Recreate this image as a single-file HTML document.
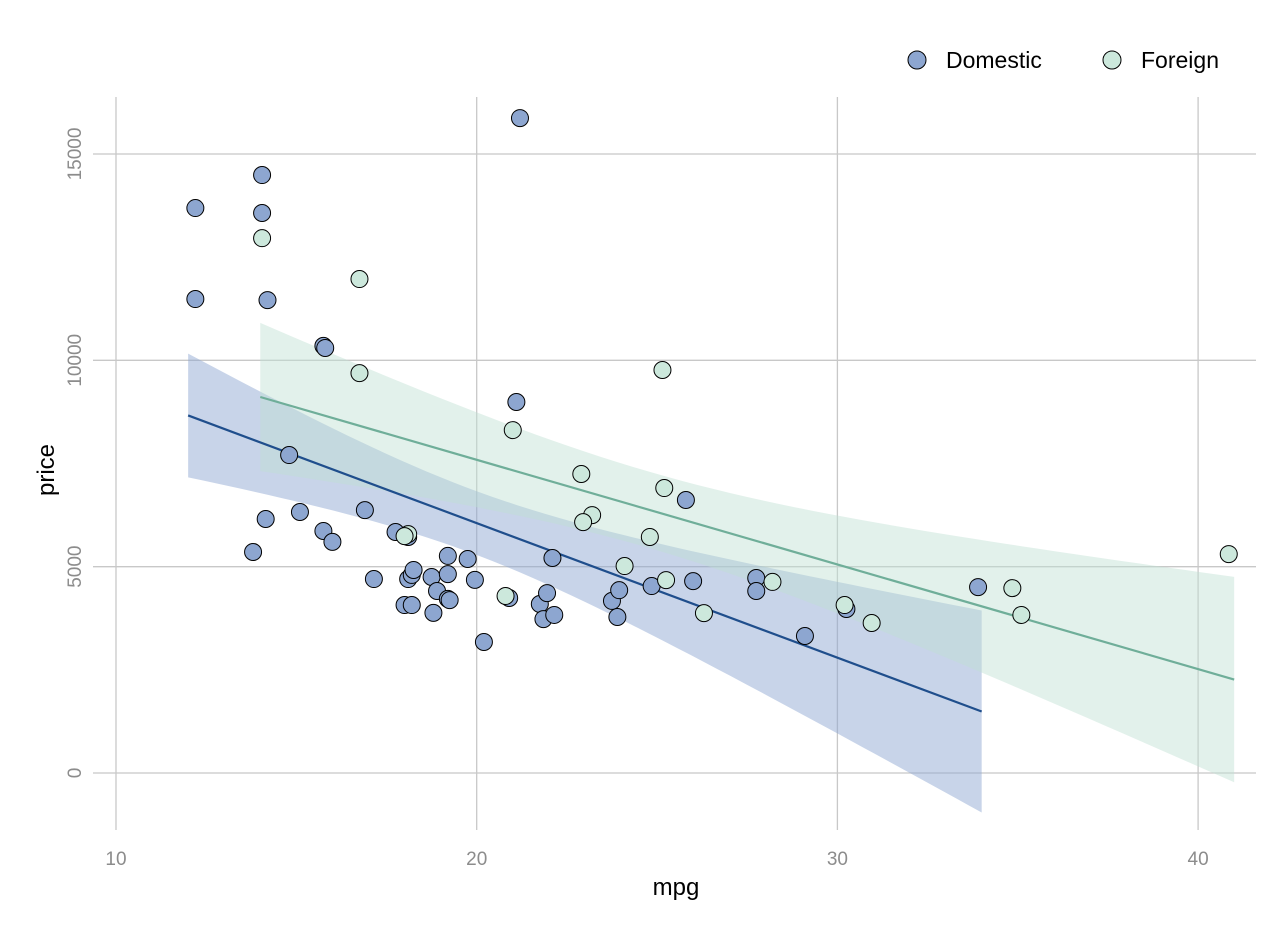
<!DOCTYPE html>
<html><head><meta charset="utf-8"><style>
body{margin:0;background:#fff;}
svg{display:block;font-family:"Liberation Sans",sans-serif;}
</style></head><body>
<svg id="chart" width="1277" height="929">
<g id="grid"></g>
<g id="bands"></g>
<g id="lines"></g>
<g id="points"></g>
<g id="axes"></g>
<text x="676" y="895" font-size="24" text-anchor="middle" fill="#000">mpg</text>
<text x="0" y="0" font-size="24" text-anchor="middle" fill="#000" transform="translate(54,470) rotate(-90)">price</text>
<g>
<g><circle cx="917" cy="60" r="9" fill="#8da6d0" stroke="#000" stroke-width="1"/><text x="946" y="68" font-size="23" fill="#000">Domestic</text></g>
<g><circle cx="1112" cy="60" r="9" fill="#cce8dc" stroke="#000" stroke-width="1"/><text x="1141" y="68" font-size="23" fill="#000">Foreign</text></g>
</g>
</svg>
<script>
const xTicks=[10,20,30,40];
const yTicks=[0,5000,10000,15000];
const domMpg=[12.2,12.2,14.05,14.05,14.2,15.75,15.8,14.8,14.15,15.1,13.8,15.75,16.0,16.9,17.15,17.75,18.1,18.1,18.2,18.25,18.0,18.2,18.75,18.9,18.8,19.2,19.2,19.2,19.25,19.75,19.95,20.2,20.9,21.2,21.1,21.75,21.95,21.85,22.15,22.1,23.75,23.95,23.9,24.85,25.8,26.0,27.75,27.75,29.1,30.25,33.9];
const domPrice=[13690,11485,14490,13570,11460,10350,10300,7705,6155,6325,5355,5865,5600,6370,4700,5840,5720,4700,4800,4920,4070,4070,4750,4410,3880,5260,4820,4220,4190,5185,4680,3175,4240,15870,8990,4095,4360,3730,3830,5210,4170,4430,3780,4530,6615,4650,4725,4410,3320,3975,4505];
const forMpg=[14.05,16.75,16.75,25.15,21.0,22.9,25.2,23.2,22.95,24.8,18.1,18.0,24.1,25.25,28.2,20.8,26.3,30.2,30.95,34.85,35.1,40.85];
const forPrice=[12960,11970,9690,9765,8310,7245,6905,6250,6080,5720,5790,5740,5015,4675,4630,4290,3875,4070,3635,4480,3830,5305];
const X=v=>116+(v-10)*36.07;
const Y=v=>773-v*0.041267;
const NS="http://www.w3.org/2000/svg";
function mk(tag,attrs,parent){const e=document.createElementNS(NS,tag);for(const k in attrs)e.setAttribute(k,attrs[k]);parent.appendChild(e);return e;}
const grid=document.getElementById('grid'),axes=document.getElementById('axes');
xTicks.forEach(t=>{
 const l=mk('line',{x1:X(t),x2:X(t),y1:97,y2:830,stroke:'#c8c8c8','stroke-width':1.3},grid);
 
 
 const tx=mk('text',{x:X(t),y:865,'font-size':19,fill:'#8c8c8c','text-anchor':'middle'},axes);
 tx.textContent=t;
 
 
});
yTicks.forEach(t=>{
 const l=mk('line',{x1:93,x2:1256,y1:Y(t),y2:Y(t),stroke:'#c8c8c8','stroke-width':1.3},grid);
 
 
 const tx=mk('text',{x:0,y:0,'font-size':19,fill:'#8c8c8c','text-anchor':'middle',transform:`translate(81,${Y(t)}) rotate(-90)`},axes);
 tx.textContent=t;
 
 
});
function fit(xs,ys){
 const n=xs.length,mx=xs.reduce((a,b)=>a+b)/n,my=ys.reduce((a,b)=>a+b)/n;
 let sxx=0,sxy=0;xs.forEach((x,i)=>{sxx+=(x-mx)**2;sxy+=(x-mx)*(ys[i]-my);});
 const b=sxy/sxx,a=my-b*mx;let sse=0;xs.forEach((x,i)=>{sse+=(ys[i]-a-b*x)**2;});
 const s=Math.sqrt(sse/(n-2)),t=n>30?2.01:2.086;
 return {a,b,s,mx,sxx,n,t,min:Math.round(Math.min(...xs)),max:Math.round(Math.max(...xs))};
}
function drawFit(xs,ys,band,line,name){
 const f=fit(xs,ys),up=[],lo=[];
 for(let i=0;i<=60;i++){const x=f.min+(f.max-f.min)*i/60,yh=f.a+f.b*x,se=f.s*Math.sqrt(1/f.n+(x-f.mx)**2/f.sxx);
  up.push(X(x)+','+Y(yh+f.t*se));lo.unshift(X(x)+','+Y(yh-f.t*se));}
 const p=mk('polygon',{points:up.concat(lo).join(' '),fill:band},document.getElementById('bands'));
 
 
 const l=mk('line',{x1:X(f.min),y1:Y(f.a+f.b*f.min),x2:X(f.max),y2:Y(f.a+f.b*f.max),stroke:line,'stroke-width':2.2},document.getElementById('lines'));
 
 
}
drawFit(domMpg,domPrice,'rgba(141,166,208,0.48)','#1f4e8c','domestic');
drawFit(forMpg,forPrice,'rgba(190,225,210,0.45)','#6fae99','foreign');
const pts=document.getElementById('points');
domMpg.forEach((m,i)=>{const c=mk('circle',{cx:X(m),cy:Y(domPrice[i]),r:8.5,fill:'#8da6d0',stroke:'#000','stroke-width':1},pts);
 
 });
forMpg.forEach((m,i)=>{const c=mk('circle',{cx:X(m),cy:Y(forPrice[i]),r:8.5,fill:'#cce8dc',stroke:'#000','stroke-width':1},pts);
 
 });
</script>
</body></html>
